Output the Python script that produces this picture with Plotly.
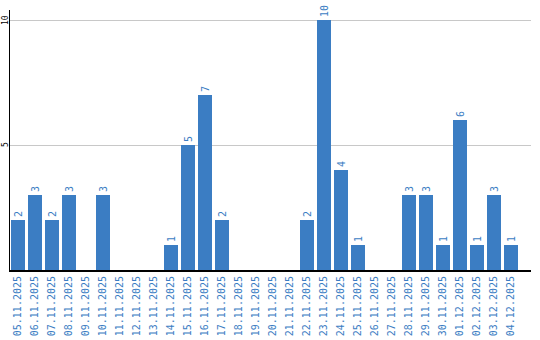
import plotly.graph_objects as go

dates = ["05.11.2025", "06.11.2025", "07.11.2025", "08.11.2025", "09.11.2025",
         "10.11.2025", "11.11.2025", "12.11.2025", "13.11.2025", "14.11.2025",
         "15.11.2025", "16.11.2025", "17.11.2025", "18.11.2025", "19.11.2025",
         "20.11.2025", "21.11.2025", "22.11.2025", "23.11.2025", "24.11.2025",
         "25.11.2025", "26.11.2025", "27.11.2025", "28.11.2025", "29.11.2025",
         "30.11.2025", "01.12.2025", "02.12.2025", "03.12.2025", "04.12.2025"]
values = [2, 3, 2, 3, 0, 3, 0, 0, 0, 1, 5, 7, 2, 0, 0, 0, 0, 2, 10, 4, 1, 0, 0, 3, 3, 1, 6, 1, 3, 1]
y_ticks = [5, 10]
y_tick_labels = ["5", "10"]

blue = "#3b7dc3"
labels = [str(v) if v > 0 else "" for v in values]

fig = go.Figure(go.Bar(
    x=dates, y=values, marker_color=blue, marker_line_width=0,
    text=labels, textposition="outside", textangle=-90,
    textfont=dict(family="DejaVu Sans Mono", size=10, color=blue),
    cliponaxis=False, width=14 / 17,
))

fig.update_layout(
    width=540, height=340, margin=dict(l=10, r=9, t=10, b=70),
    paper_bgcolor="white", plot_bgcolor="white", showlegend=False,
    bargap=0,
)
for v, t in zip(y_ticks, y_tick_labels):
    fig.add_annotation(
        xref="paper", x=0, yref="y", y=v, text=t, showarrow=False,
        textangle=-90, xanchor="center", yanchor="middle", xshift=-5,
        font=dict(family="DejaVu Sans Mono", size=8, color="black"),
        borderpad=0,
    )
fig.update_xaxes(
    type="category", range=[-0.47, 30.18], tickangle=-90,
    tickfont=dict(family="DejaVu Sans Mono", size=10, color=blue),
    showgrid=False, showline=True, linecolor="black", linewidth=2,
    ticks="", fixedrange=True, automargin=False,
)
fig.update_yaxes(
    range=[0, 10.4], tickvals=y_ticks, showticklabels=False,
    showgrid=True, gridcolor="#c8c8c8", gridwidth=1, zeroline=False,
    showline=True, linecolor="black", linewidth=1, ticks="",
    automargin=False,
)
fig.write_html("out.html")
